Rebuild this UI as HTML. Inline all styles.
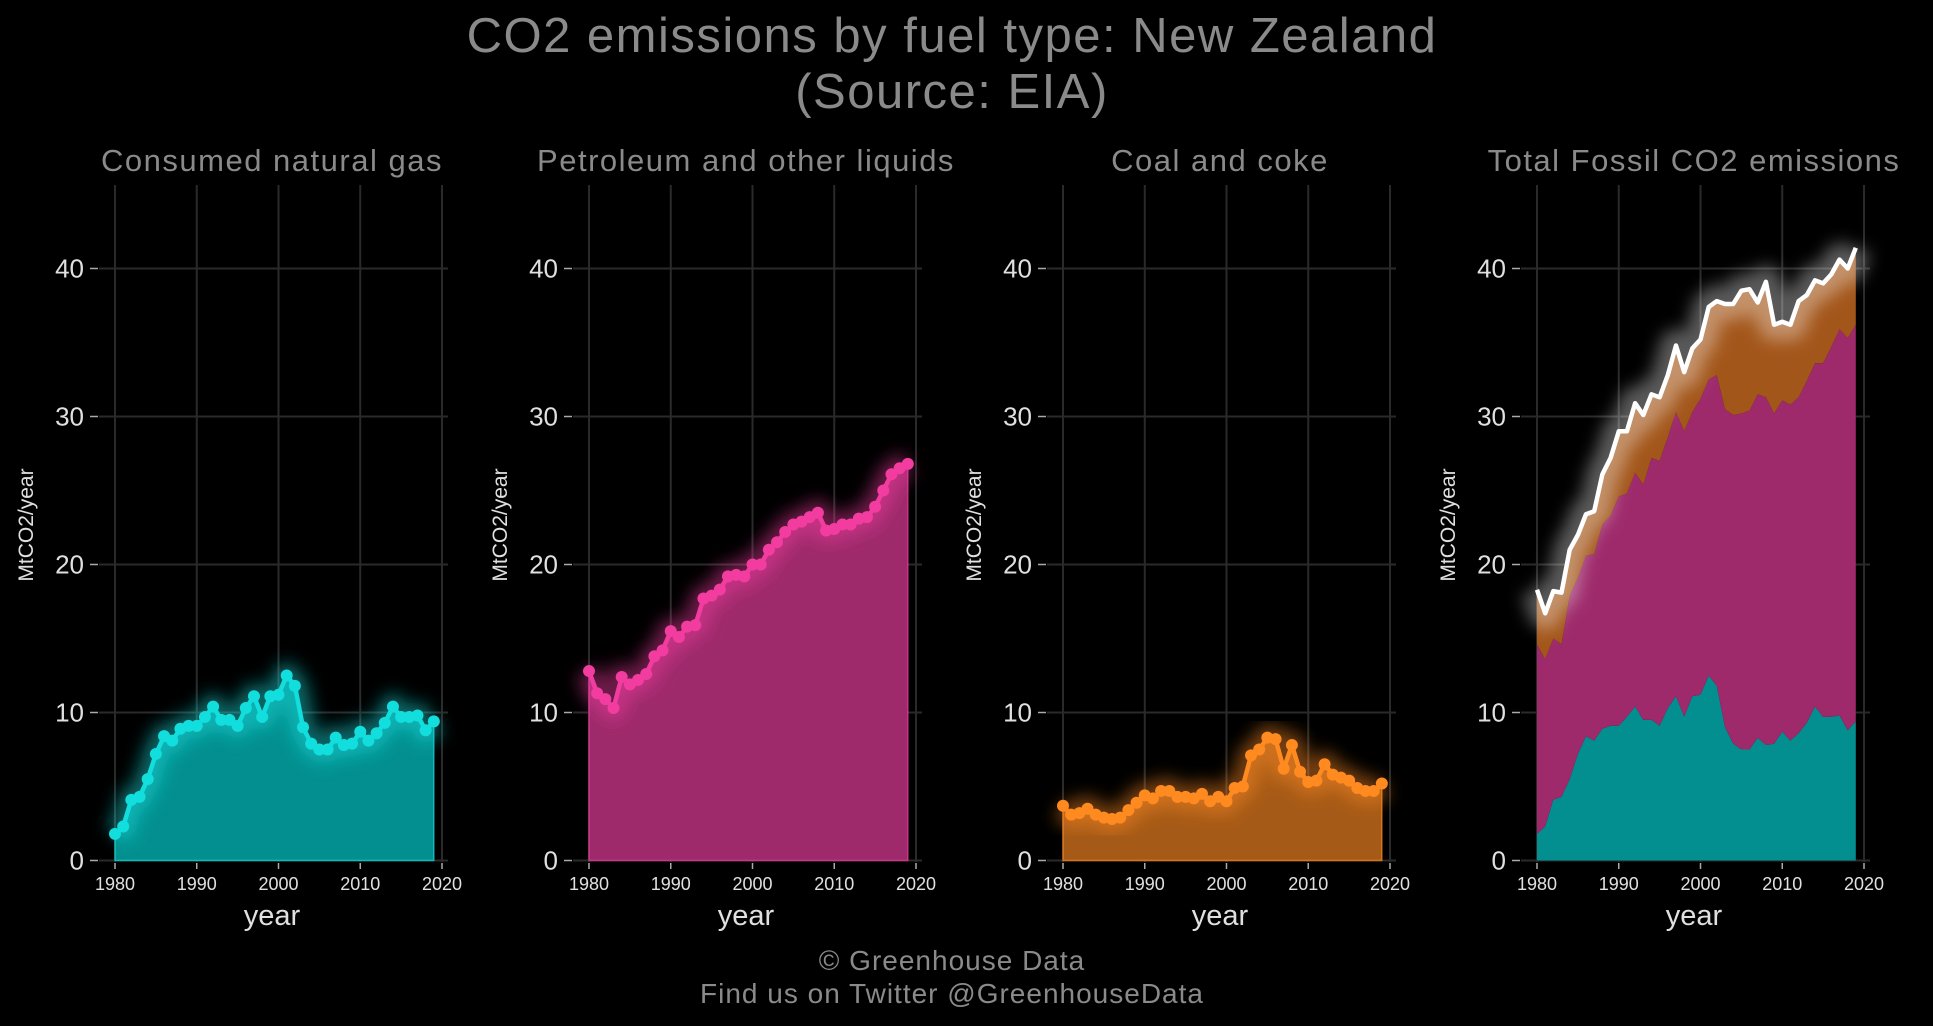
<!DOCTYPE html>
<html><head><meta charset="utf-8"><style>
html,body{margin:0;padding:0;background:#000;}
svg{display:block;font-family:"Liberation Sans",sans-serif;}
</style></head><body>
<svg id="chart" width="1933" height="1026" viewBox="0 0 1933 1026" xmlns="http://www.w3.org/2000/svg">
<defs>
<filter id="glow" x="-20%" y="-20%" width="140%" height="140%"><feGaussianBlur stdDeviation="8"/></filter>
</defs>
<rect width="1933" height="1026" fill="#000"/>
<text x="952" y="52" text-anchor="middle" font-size="49" letter-spacing="1.5" fill="#8a8a8a">CO2 emissions by fuel type: New Zealand</text>
<text x="952" y="108" text-anchor="middle" font-size="49" letter-spacing="1.5" fill="#8a8a8a">(Source: EIA)</text>
<text x="952" y="970" text-anchor="middle" font-size="28" letter-spacing="1" fill="#8a8a8a">© Greenhouse Data</text>
<text x="952" y="1003" text-anchor="middle" font-size="28" letter-spacing="1" fill="#8a8a8a">Find us on Twitter @GreenhouseData</text>
<g id="panels"></g>
</svg>
<script>
const years = [];
for (let y = 1980; y <= 2019; y++) years.push(y);
const gasValues = [1.8,2.3,4.1,4.3,5.5,7.2,8.4,8.1,8.9,9.1,9.1,9.7,10.4,9.5,9.5,9.1,10.3,11.1,9.7,11.1,11.2,12.5,11.8,9.0,7.9,7.5,7.5,8.3,7.8,7.9,8.7,8.1,8.6,9.3,10.4,9.7,9.7,9.8,8.8,9.4];
const petroleumValues = [12.8,11.3,10.9,10.3,12.4,11.9,12.2,12.6,13.8,14.2,15.5,15.1,15.8,15.9,17.7,17.9,18.3,19.2,19.3,19.2,20.0,20.0,21.0,21.5,22.2,22.7,22.9,23.2,23.5,22.3,22.4,22.7,22.7,23.1,23.2,23.9,25.0,26.1,26.5,26.8];
const coalValues = [3.7,3.1,3.2,3.5,3.1,2.9,2.8,2.9,3.4,3.9,4.4,4.2,4.7,4.7,4.3,4.3,4.2,4.5,4.0,4.3,4.0,4.9,5.0,7.1,7.5,8.3,8.2,6.2,7.8,6.0,5.3,5.4,6.5,5.8,5.6,5.4,4.9,4.7,4.7,5.2];
const panelTitles = ["Consumed natural gas","Petroleum and other liquids","Coal and coke","Total Fossil CO2 emissions"];
const yTicks = [0,10,20,30,40];
const xTicks = [1980,1990,2000,2010,2020];

const NS = "http://www.w3.org/2000/svg";
const root = document.getElementById('panels');
function mk(tag, attrs, parent){const e=document.createElementNS(NS,tag);for(const k in attrs)e.setAttribute(k,attrs[k]);(parent||root).appendChild(e);return e;}
const panelX0 = [115,589,1063,1537];
const pw = 327/40;
function yScale(v){return 860.5 - v*14.8;}

function pathLine(xf, vals){return vals.map((v,i)=>(i?'L':'M')+xf(years[i]).toFixed(1)+','+yScale(v).toFixed(1)).join(' ');}
function pathArea(xf, top, bot){
  let d = top.map((v,i)=>(i?'L':'M')+xf(years[i]).toFixed(1)+','+yScale(v).toFixed(1)).join(' ');
  for(let i=bot.length-1;i>=0;i--) d+=' L'+xf(years[i]).toFixed(1)+','+yScale(bot[i]).toFixed(1);
  return d+' Z';
}

const singles = [
  {vals:gasValues, fill:'#038f8f', line:'#12dede', name:'gas'},
  {vals:petroleumValues, fill:'#9e2a6b', line:'#f23c9f', name:'petroleum'},
  {vals:coalValues, fill:'#a65a17', line:'#ff8a1f', name:'coal'}
];

for(let p=0;p<4;p++){
  const x0 = panelX0[p];
  const xf = yr => x0 + (yr-1980)*pw;
  const g = mk('g',{});
  
  
  const left = x0-16, right = x0+333;
  yTicks.forEach(t=>{
    const l = mk('line',{x1:left,x2:right,y1:yScale(t),y2:yScale(t),stroke:'#2a2a2a','stroke-width':2},g);
    
    
    const tk = mk('line',{x1:left-9,x2:left-1,y1:yScale(t),y2:yScale(t),stroke:'#aaa','stroke-width':1.5},g);
    
    
    const tx = mk('text',{x:left-15,y:yScale(t)+9,'text-anchor':'end','font-size':26,fill:'#e0e0e0'},g);
    tx.textContent=t;
    
    
  });
  xTicks.forEach(t=>{
    const l = mk('line',{x1:xf(t),x2:xf(t),y1:185,y2:862,stroke:'#2a2a2a','stroke-width':2},g);
    
    
    const tk = mk('line',{x1:xf(t),x2:xf(t),y1:863,y2:869,stroke:'#aaa','stroke-width':1.5},g);
    
    
    const tx = mk('text',{x:xf(t),y:890,'text-anchor':'middle','font-size':18,fill:'#e0e0e0'},g);
    tx.textContent=t;
    
    
  });
  const title = mk('text',{x:x0+157,y:171,'text-anchor':'middle','font-size':31,'letter-spacing':1.5,fill:'#8a8a8a'},g);
  title.textContent = panelTitles[p];
  
  
  const yt = mk('text',{transform:'translate('+(x0-82)+',525) rotate(-90)','text-anchor':'middle','font-size':21,fill:'#e0e0e0'},g);
  yt.textContent='MtCO2/year';
  
  
  const xt = mk('text',{x:x0+157,y:925,'text-anchor':'middle','font-size':29,fill:'#e0e0e0'},g);
  xt.textContent='year';
  
  

  const zeros = years.map(()=>0);
  if(p<3){
    const s = singles[p];
    const a = mk('path',{d:pathArea(xf,s.vals,zeros),fill:s.fill,stroke:s.line,'stroke-width':1.5,'stroke-opacity':0.7},g);
    
    
    const gl = mk('path',{d:pathLine(xf,s.vals),fill:'none',stroke:s.line,'stroke-width':26,'stroke-opacity':0.45,filter:'url(#glow)','stroke-linejoin':'round'},g);
    
    
    const ln = mk('path',{d:pathLine(xf,s.vals),fill:'none',stroke:s.line,'stroke-width':4.5,'stroke-linejoin':'round'},g);
    
    
    s.vals.forEach((v,i)=>{
      const c = mk('circle',{cx:xf(years[i]),cy:yScale(v),r:6,fill:s.line},g);
      
      
    });
  } else {
    const s1 = gasValues;
    const s2 = gasValues.map((v,i)=>v+petroleumValues[i]);
    const s3 = s2.map((v,i)=>v+coalValues[i]);
    const a1 = mk('path',{d:pathArea(xf,s1,zeros),fill:'#038f8f'},g);
    
    
    const a2 = mk('path',{d:pathArea(xf,s2,s1),fill:'#9e2a6b'},g);
    
    
    const a3 = mk('path',{d:pathArea(xf,s3,s2),fill:'#a3561a'},g);
    
    
    const gl = mk('path',{d:pathLine(xf,s3),fill:'none',stroke:'#ffffff','stroke-width':32,'stroke-opacity':0.35,filter:'url(#glow)','stroke-linejoin':'round'},g);
    
    
    const ln = mk('path',{d:pathLine(xf,s3),fill:'none',stroke:'#ffffff','stroke-width':4.5,'stroke-linejoin':'round'},g);
    
    
  }
}
</script>
</body></html>
